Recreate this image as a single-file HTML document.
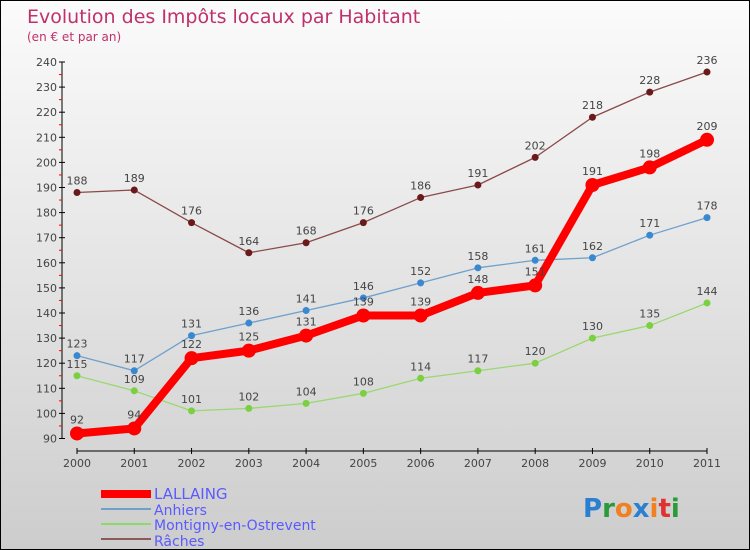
<!DOCTYPE html>
<html><head><meta charset="utf-8"><style>
body{margin:0}
#c{width:750px;height:550px;position:relative;box-sizing:border-box;border:1px solid #000;background:linear-gradient(#fbfbfb,#cdcdcd);font-family:"DejaVu Sans","Liberation Sans",sans-serif;overflow:hidden}
svg text{font-family:"DejaVu Sans","Liberation Sans",sans-serif}
</style></head><body>
<div id="c">
<svg id="s" width="750" height="550" style="position:absolute;left:0;top:0">
<text x="26" y="22" font-size="19" fill="#c0306a">Evolution des Impôts locaux par Habitant</text>
<text x="26" y="40" font-size="12" fill="#c0306a">(en € et par an)</text>
<g id="ax"></g><g id="series"></g>
<g>
<rect x="100" y="489" width="50" height="8" fill="#f00"/>
<text x="153" y="498" font-size="15" fill="#5a5aff">LALLAING</text>
<line x1="100" y1="508" x2="150" y2="508" stroke="#6fa0cc" stroke-width="2"/>
<text x="153" y="514" font-size="14" fill="#5a5aff">Anhiers</text>
<line x1="100" y1="523" x2="150" y2="523" stroke="#8fd86a" stroke-width="2"/>
<text x="153" y="529" font-size="14" fill="#5a5aff">Montigny-en-Ostrevent</text>
<line x1="100" y1="538" x2="150" y2="538" stroke="#8a5a5a" stroke-width="2"/>
<text x="153" y="545" font-size="14" fill="#5a5aff">Râches</text>
</g>
<g font-size="26" font-weight="bold">
<text x="582" y="516"><tspan fill="#2a7fd0">P</tspan><tspan fill="#2a9a3a">r</tspan><tspan fill="#f08020">o</tspan><tspan fill="#2a7fd0">x</tspan><tspan fill="#f08020">i</tspan><tspan fill="#e03030">t</tspan><tspan fill="#2a9a3a">i</tspan></text>
</g>
</svg>
</div>
<script>
const years=[2000,2001,2002,2003,2004,2005,2006,2007,2008,2009,2010,2011];
const yTicks=[90,100,110,120,130,140,150,160,170,180,190,200,210,220,230,240];
const lallaing=[92,94,122,125,131,139,139,148,151,191,198,209];
const anhiers=[123,117,131,136,141,146,152,158,161,162,171,178];
const montigny=[115,109,101,102,104,108,114,117,120,130,135,144];
const raches=[188,189,176,164,168,176,186,191,202,218,228,236];
const NS="http://www.w3.org/2000/svg";
const X=i=>76+i*(630/11);
const Y=v=>437.5-(v-90)*2.51;
function mk(t,a,p){const e=document.createElementNS(NS,t);for(const k in a)e.setAttribute(k,a[k]);p.appendChild(e);return e;}
const ax=document.getElementById('ax');
let l=mk('line',{x1:61,y1:Y(240),x2:61,y2:Y(90),stroke:'#000'},ax);


yTicks.forEach(v=>{
 mk('line',{x1:58,x2:64,y1:Y(v),y2:Y(v),stroke:'#000'},ax);
 if(v<240)mk('line',{x1:58,x2:61,y1:Y(v+5),y2:Y(v+5),stroke:'#f00'},ax);
 const t=mk('text',{x:56,y:Y(v)+4,'font-size':11,fill:'#444','text-anchor':'end'},ax);t.textContent=v;
 
 
});
l=mk('line',{x1:X(0),y1:450,x2:X(11),y2:450,stroke:'#000'},ax);


years.forEach((y,i)=>{
 mk('line',{x1:X(i),x2:X(i),y1:447,y2:453,stroke:'#000'},ax);
 const t=mk('text',{x:X(i),y:466,'font-size':11,fill:'#444','text-anchor':'middle'},ax);t.textContent=y;
 
 
});
const sg=document.getElementById('series');
function draw(vals,name,col,dot,w,r){
 const g=mk('g',{},sg);
 
 
 const p=mk('polyline',{points:vals.map((v,i)=>X(i)+','+Y(v)).join(' '),fill:'none',stroke:col,'stroke-width':w,'stroke-linejoin':'round'},g);
 
 
 vals.forEach((v,i)=>{
  const c=mk('circle',{cx:X(i),cy:Y(v),r:r,fill:dot},g);
  
  
  const t=mk('text',{x:X(i),y:Y(v)-8-(r>5?2:0),'font-size':11,fill:'#444','text-anchor':'middle'},g);t.textContent=v;
  
  
 });
}
draw(raches,'raches','#8a4a4a','#6a1a1a',1.3,3.5);
draw(montigny,'montigny','#9ad870','#7ad040',1.3,3.5);
draw(anhiers,'anhiers','#6fa0cc','#3a88d0',1.3,3.5);
draw(lallaing,'lallaing','#f00','#f00',8,7);
</script>
</body></html>
